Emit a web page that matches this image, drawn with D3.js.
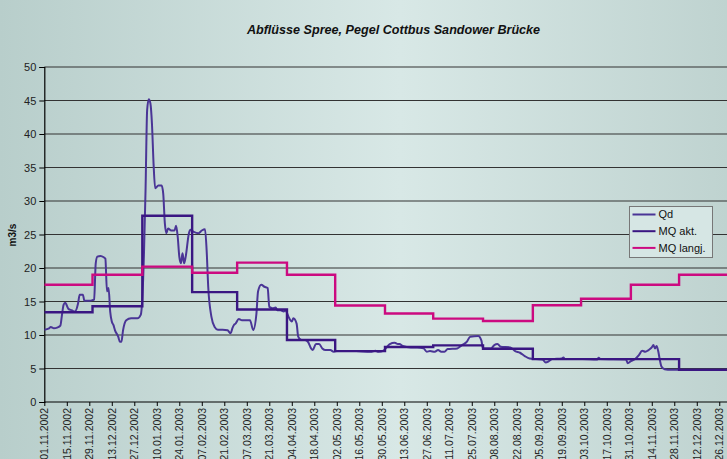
<!DOCTYPE html>
<html>
<head>
<meta charset="utf-8">
<script src="https://cdn.jsdelivr.net/npm/d3@7"></script>
<style>
  html, body { margin: 0; padding: 0; overflow: hidden; }
  svg { display: block; font-family: "Liberation Sans", Arial, sans-serif; }
</style>
</head>
<body>
<svg id="chart" width="727" height="459"></svg>
<script>
// ---------- DATA ----------
const title = "Abflüsse Spree, Pegel Cottbus Sandower Brücke";
const yLabel = "m3/s";
const seriesNames = ["Qd", "MQ akt.", "MQ langj."];

const xTickLabels = ["01.11.2002","15.11.2002","29.11.2002","13.12.2002","27.12.2002","10.01.2003","24.01.2003",
  "07.02.2003","21.02.2003","07.03.2003","21.03.2003","04.04.2003","18.04.2003","02.05.2003","16.05.2003",
  "30.05.2003","13.06.2003","27.06.2003","11.07.2003","25.07.2003","08.08.2003","22.08.2003","05.09.2003",
  "19.09.2003","03.10.2003","17.10.2003","31.10.2003","14.11.2003","28.11.2003","12.12.2003","26.12.2003"];
const yTicks = [0,5,10,15,20,25,30,35,40,45,50];

// Daily discharge Qd
const qdDates = ["2002-11-01","2002-11-04","2002-11-05","2002-11-07","2002-11-09","2002-11-11","2002-11-12","2002-11-13",
  "2002-11-14","2002-11-16","2002-11-18","2002-11-20","2002-11-22","2002-11-23","2002-11-25","2002-11-26","2002-11-29",
  "2002-12-01","2002-12-02","2002-12-03","2002-12-04","2002-12-06","2002-12-08","2002-12-09","2002-12-10","2002-12-11",
  "2002-12-12","2002-12-13","2002-12-14","2002-12-15","2002-12-17","2002-12-18","2002-12-19","2002-12-20","2002-12-22",
  "2002-12-25","2002-12-29","2002-12-31","2003-01-01","2003-01-02","2003-01-03","2003-01-04","2003-01-05","2003-01-06",
  "2003-01-07","2003-01-08","2003-01-09","2003-01-11","2003-01-13","2003-01-14","2003-01-15","2003-01-16","2003-01-17",
  "2003-01-19","2003-01-21","2003-01-22","2003-01-23","2003-01-24","2003-01-25","2003-01-26","2003-01-27","2003-01-28",
  "2003-01-30","2003-01-31","2003-02-02","2003-02-05","2003-02-07","2003-02-09","2003-02-10","2003-02-11","2003-02-13",
  "2003-02-15","2003-02-17","2003-02-20","2003-02-23","2003-02-25","2003-02-26","2003-02-27","2003-02-28","2003-03-02",
  "2003-03-04","2003-03-09","2003-03-11","2003-03-13","2003-03-14","2003-03-16","2003-03-18","2003-03-20","2003-03-21",
  "2003-03-23","2003-03-25","2003-03-26","2003-03-28","2003-03-30","2003-03-31","2003-04-02","2003-04-04","2003-04-05",
  "2003-04-07","2003-04-08","2003-04-10","2003-04-12","2003-04-14","2003-04-16","2003-04-17","2003-04-19","2003-04-21",
  "2003-04-23","2003-04-25","2003-04-28","2003-04-30","2003-05-02","2003-05-06","2003-05-14","2003-05-23","2003-05-26",
  "2003-05-28","2003-05-31","2003-06-02","2003-06-04","2003-06-07","2003-06-09","2003-06-10","2003-06-12","2003-06-17",
  "2003-06-21","2003-06-25","2003-06-27","2003-06-29","2003-07-02","2003-07-04","2003-07-06","2003-07-08","2003-07-10",
  "2003-07-16","2003-07-19","2003-07-22","2003-07-24","2003-07-29","2003-07-31","2003-08-01","2003-08-06","2003-08-08",
  "2003-08-10","2003-08-12","2003-08-18","2003-08-21","2003-08-24","2003-08-27","2003-08-30","2003-09-03","2003-09-07",
  "2003-09-09","2003-09-11","2003-09-13","2003-09-19","2003-09-20","2003-09-21","2003-10-02","2003-10-11","2003-10-12",
  "2003-10-13","2003-10-29","2003-10-30","2003-11-01","2003-11-04","2003-11-06","2003-11-08","2003-11-10","2003-11-12",
  "2003-11-14","2003-11-15","2003-11-16","2003-11-17","2003-11-18","2003-11-19","2003-11-20","2003-11-22","2003-11-26",
  "2003-12-31"];
const qdValues = [10.8,11.0,11.2,11.0,11.1,11.4,13.0,14.5,
  14.8,13.9,13.7,13.5,14.7,16.0,16.0,15.1,15.1,
  15.2,15.3,20.7,21.7,21.8,21.6,21.4,16.5,17.0,
  13.5,12.0,11.5,10.7,9.75,9.0,9.0,10.7,12.2,
  12.5,12.5,13.0,15.5,22.0,31.6,43.6,45.2,44.6,
  41.5,35.5,31.9,32.3,32.3,31.1,26.7,25.2,25.9,
  25.6,25.6,26.3,24.7,21.7,20.7,22.2,20.7,21.7,
  25.2,25.7,25.4,25.2,25.6,25.8,22.7,17.2,12.7,
  11.2,10.8,10.8,10.7,10.25,11.0,11.5,11.7,12.4,
  12.2,12.2,10.75,13.2,16.5,17.5,17.2,17.0,14.2,
  14.0,14.1,13.7,13.7,13.5,13.7,12.7,12.0,12.5,
  11.7,9.75,9.25,9.25,9.0,8.0,7.75,8.65,8.65,
  8.0,7.75,7.75,7.5,7.6,7.6,7.6,7.5,7.65,
  7.5,7.65,8.15,8.65,8.85,8.65,8.65,8.35,8.15,
  8.15,8.0,7.5,7.6,7.5,7.75,7.5,7.5,7.9,
  8.0,8.5,9.0,9.75,9.85,9.15,8.0,8.0,8.5,
  8.65,8.25,8.15,7.6,7.35,6.85,6.5,6.4,6.35,
  5.9,6.1,6.4,6.5,6.65,6.4,6.4,6.35,6.6,
  6.4,6.35,5.8,6.1,6.5,7.0,7.65,7.5,7.75,
  8.15,8.5,8.0,8.35,7.6,6.3,5.3,4.9,4.8,
  4.8];

// Monthly means
const monthStarts = ["2002-11-01","2002-12-01","2003-01-01","2003-02-01","2003-03-01","2003-04-01","2003-05-01",
  "2003-06-01","2003-07-01","2003-08-01","2003-09-01","2003-10-01","2003-11-01","2003-12-01"];
const mqAkt   = [13.4,14.3,27.8,16.4,13.8,9.25,7.6,8.2,8.45,7.95,6.4,6.4,6.4,4.8];
const mqLangj = [17.5,19.0,20.2,19.3,20.8,19.0,14.4,13.2,12.45,12.1,14.45,15.4,17.5,19.0];
const endDate = "2003-12-31";

// ---------- LAYOUT ----------
const W = 727, H = 459;
const plot = { left: 44.3, right: 727.3, top: 67, bottom: 402 };
const colors = { qd: "#4a3596", akt: "#3a1682", langj: "#cc0a80" };

const svg = d3.select("#chart");
const parseISO = d3.utcParse("%Y-%m-%d");
const parseDE = d3.utcParse("%d.%m.%Y");

// background gradient
const defs = svg.append("defs");
const grad = defs.append("linearGradient").attr("id", "bg").attr("x1", "0%").attr("x2", "100%").attr("y1", "0%").attr("y2", "0%");
grad.append("stop").attr("offset", "0%").attr("stop-color", "#b8cecb");
grad.append("stop").attr("offset", "55%").attr("stop-color", "#d8e8e6");
grad.append("stop").attr("offset", "100%").attr("stop-color", "#bfd3d0");
svg.append("rect").attr("width", W).attr("height", H).attr("fill", "url(#bg)");

defs.append("clipPath").attr("id", "clip").append("rect")
  .attr("x", plot.left).attr("y", plot.top - 5).attr("width", plot.right - plot.left + 5).attr("height", plot.bottom - plot.top + 5);

const x = d3.scaleUtc().domain([parseISO("2002-11-01"), parseISO(endDate)]).range([plot.left, plot.right]);
const y = d3.scaleLinear().domain([0, 50]).range([plot.bottom, plot.top]);

// gridlines
svg.append("g").selectAll("line").data(yTicks.filter(d => d > 0)).join("line")
  .attr("x1", plot.left).attr("x2", W)
  .attr("y1", d => y(d)).attr("y2", d => y(d))
  .attr("stroke", "#333").attr("stroke-width", 1.2);

// y axis
const yAxis = d3.axisLeft(y).tickValues(yTicks).tickSize(5).tickPadding(3);
const gy = svg.append("g").attr("transform", `translate(${plot.left},0)`).call(yAxis);
gy.select(".domain").attr("stroke", "#000").attr("stroke-width", 1.2);
gy.selectAll(".tick line").attr("stroke", "#000");
gy.selectAll("text").attr("font-size", 11).attr("fill", "#222").attr("font-family", "Liberation Sans, Arial, sans-serif");

// x axis
const xAxis = d3.axisBottom(x).tickValues(xTickLabels.map(parseDE)).tickFormat(d3.utcFormat("%d.%m.%Y")).tickSize(4).tickSizeOuter(0);
const gx = svg.append("g").attr("transform", `translate(0,${plot.bottom})`).call(xAxis);
gx.select(".domain").attr("stroke", "#000").attr("stroke-width", 1.2).attr("d", `M${plot.left},0H${W}`);
gx.selectAll(".tick line").attr("stroke", "#000");
gx.selectAll("text")
  .attr("font-size", 10.5).attr("fill", "#222").attr("font-family", "Liberation Sans, Arial, sans-serif")
  .attr("text-anchor", "end").attr("dy", "0.35em")
  .attr("transform", "translate(0,6) rotate(-90)")
  .attr("x", 0).attr("y", 0);

// lines
const gl = svg.append("g").attr("clip-path", "url(#clip)");
const qd = qdDates.map((d, i) => ({ date: parseISO(d), v: qdValues[i] }));
gl.append("path").datum(qd)
  .attr("d", d3.line().x(d => x(d.date)).y(d => y(d.v)).curve(d3.curveMonotoneX))
  .attr("fill", "none").attr("stroke", colors.qd).attr("stroke-width", 2).attr("stroke-linejoin", "round");

function stepData(vals) {
  const pts = monthStarts.map((d, i) => ({ date: parseISO(d), v: vals[i] }));
  pts.push({ date: parseISO(endDate), v: vals[vals.length - 1] });
  return pts;
}
const stepLine = d3.line().x(d => x(d.date)).y(d => y(d.v)).curve(d3.curveStepAfter);
gl.append("path").datum(stepData(mqAkt)).attr("d", stepLine)
  .attr("fill", "none").attr("stroke", colors.akt).attr("stroke-width", 2.4);
gl.append("path").datum(stepData(mqLangj)).attr("d", stepLine)
  .attr("fill", "none").attr("stroke", colors.langj).attr("stroke-width", 2.4);

// title
svg.append("text").attr("x", 393.5).attr("y", 34).attr("text-anchor", "middle")
  .attr("font-size", 12.6).attr("font-weight", "bold").attr("font-style", "italic").attr("fill", "#111")
  .text(title);

// y label
svg.append("text").attr("transform", "translate(16,235) rotate(-90)").attr("text-anchor", "middle")
  .attr("font-size", 10).attr("font-weight", "bold").attr("fill", "#111").text(yLabel);

// legend
const lg = svg.append("g").attr("transform", "translate(629.5,206.5)");
lg.append("rect").attr("width", 83).attr("height", 51).attr("fill", "#d6e6e4").attr("stroke", "#777").attr("stroke-width", 1);
const legendColors = [colors.qd, colors.akt, colors.langj];
seriesNames.forEach((name, i) => {
  const yy = 8 + i * 16.7;
  lg.append("line").attr("x1", 3).attr("x2", 26).attr("y1", yy).attr("y2", yy)
    .attr("stroke", legendColors[i]).attr("stroke-width", 2);
  lg.append("text").attr("x", 29).attr("y", yy).attr("dy", "0.35em")
    .attr("font-size", 11).attr("fill", "#111").text(name);
});
</script>
</body>
</html>
